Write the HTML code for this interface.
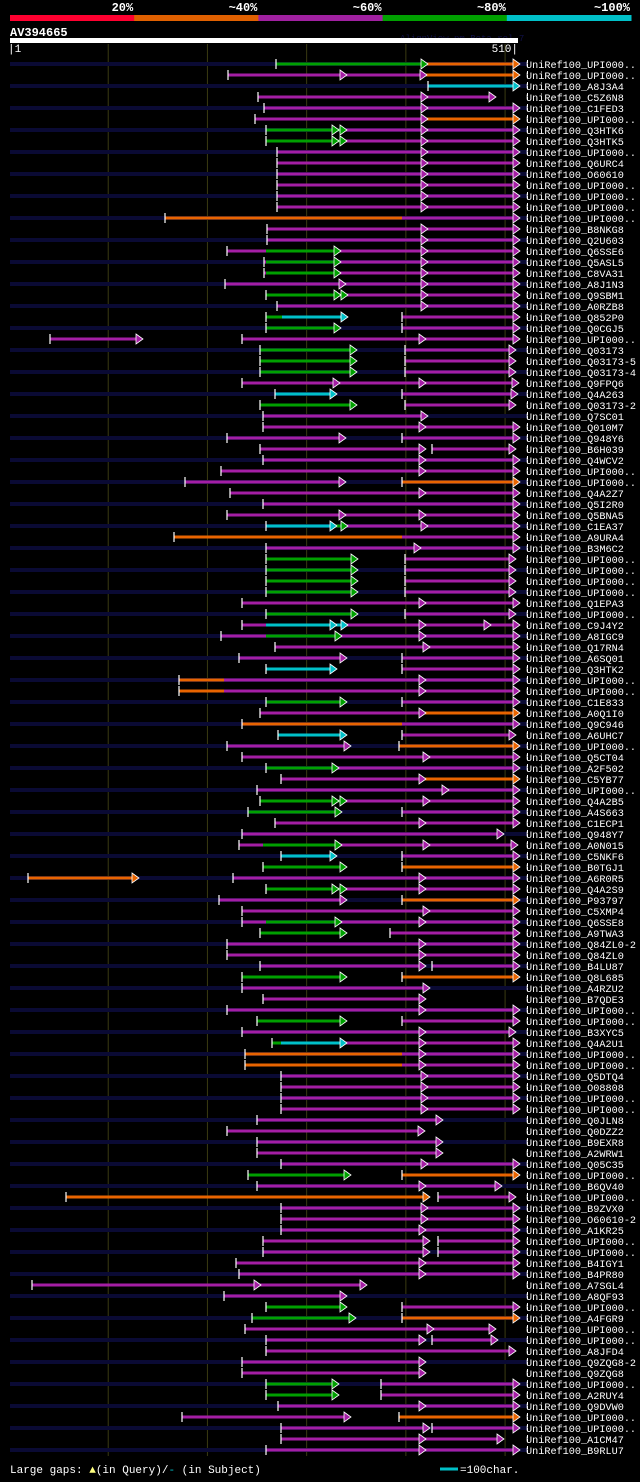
<!DOCTYPE html>
<html><head><meta charset="utf-8">
<style>
html,body{margin:0;padding:0;background:#000;}
body{width:640px;height:1477px;overflow:hidden;}
svg text{font-family:"Liberation Mono","DejaVu Sans Mono",monospace;}
</style></head>
<body>
<svg id="chart" width="640" height="1477" xmlns="http://www.w3.org/2000/svg">
  <rect x="0" y="0" width="640" height="1477" fill="#000"/>
  <g id="legend-top"></g>
  <text x="10" y="36" fill="#fff" font-size="12" font-weight="bold">AV394665</text>
  <text x="400" y="41" fill="#101048" font-size="9">AlignView.pm Beta rel.7</text>
  <rect x="10" y="38" width="508" height="5" fill="#fff"/>
  <text x="8" y="52" fill="#fff" font-size="11">|1</text>
  <text x="518" y="52" fill="#fff" font-size="11" text-anchor="end">510|</text>
  <g id="grid"></g>
  <g id="rows"></g>
  <text x="10" y="1473" fill="#fff" font-size="11">Large gaps: <tspan fill="#ffff80">▲</tspan>(in Query)/<tspan fill="#00c0c8">-</tspan> (in Subject)</text>
  <line x1="440" y1="1469" x2="458" y2="1469" stroke="#00c0c8" stroke-width="3"/>
  <text x="460" y="1473" fill="#fff" font-size="11">=100char.</text>
</svg>
<script>
const legendLabels = ["20%","~40%","~60%","~80%","~100%"];
const legendColors = ["#ff0030","#e06000","#a020a0","#00a000","#00c0c8"];
const gridTicks = [100,200,300,400,500];
const hitNames = ["UPI000..","UPI000..","A8J3A4","C5Z6N8","C1FED3","UPI000..","Q3HTK6","Q3HTK5","UPI000..","Q6URC4","O60610","UPI000..","UPI000..","UPI000..","UPI000..","B8NKG8","Q2U603","Q6SSE6","Q5ASL5","C8VA31","A8J1N3","Q9SBM1","A0RZB8","Q852P0","Q0CGJ5","UPI000..","Q03173","Q03173-5","Q03173-4","Q9FPQ6","Q4A263","Q03173-2","Q7SC01","Q010M7","Q948Y6","B6H039","Q4WCV2","UPI000..","UPI000..","Q4A2Z7","Q5I2R0","Q5BNA5","C1EA37","A9URA4","B3M6C2","UPI000..","UPI000..","UPI000..","UPI000..","Q1EPA3","UPI000..","C9J4Y2","A8IGC9","Q17RN4","A6SQ01","Q3HTK2","UPI000..","UPI000..","C1E833","A0Q1I0","Q9C946","A6UHC7","UPI000..","Q5CT04","A2F502","C5YB77","UPI000..","Q4A2B5","A4S663","C1ECP1","Q948Y7","A0N015","C5NKF6","B0TGJ1","A6R0R5","Q4A2S9","P93797","C5XMP4","Q6SSE8","A9TWA3","Q84ZL0-2","Q84ZL0","B4LU87","Q8L685","A4RZU2","B7QDE3","UPI000..","UPI000..","B3XYC5","Q4A2U1","UPI000..","UPI000..","Q5DTQ4","O08808","UPI000..","UPI000..","Q0JLN8","Q0DZZ2","B9EXR8","A2WRW1","Q05C35","UPI000..","B6QV40","UPI000..","B9ZVX0","O60610-2","A1KR25","UPI000..","UPI000..","B4IGY1","B4PR80","A7SGL4","A8QF93","UPI000..","A4FGR9","UPI000..","UPI000..","A8JFD4","Q9ZQG8-2","Q9ZQG8","UPI000..","A2RUY4","Q9DVW0","UPI000..","UPI000..","A1CM47","B9RLU7"];
const hitSegments = ["276-422G,422-514O","228-341P,341-421P,421-514O","428-514C","258-422P,422-490P","264-422P,422-514P","255-422P,422-514O","266-333G,333-341G,341-422P,422-514P","266-333G,333-341G,341-422P,422-514P","277-422P,422-514P","277-422P,422-514P","277-422P,422-514P","277-422P,422-514P","277-422P,422-514P","277-422P,422-514P","165-402o,402-514P","267-422P,422-514P","267-422P,422-514P","227-266p,266-335G,335-422P,422-514P","264-266p,266-335G,335-422P,422-514P","264-266p,266-335G,335-422P,422-514P","225-340P,340-422P,422-514P","266-335G,335-342G,342-422P,422-514P","277-422P,422-514P","266-282g,282-342C,402-514P","266-335G,402-514P","50-137P,242-420P,420-514P","260-351G,405-510P","260-351G,405-510P","260-351G,405-510P","242-334P,334-420P,420-513P","275-331C,402-512P","260-351G,405-510P","263-422P","263-420P,420-514P","227-340P,402-514P","260-420P,432-510P","263-420P,420-514P","221-420P,420-514P","185-340P,402-514O","230-420P,420-514P","263-514P","227-340P,340-420P,420-514P","266-331C,331-342G,342-422P,422-514P","174-402o,402-514P","266-415P,415-514P","266-352G,405-510P","266-352G,405-510P","266-352G,405-510P","266-352G,405-510P","242-420P,420-514P","266-352G,405-510P","242-266p,266-331C,331-342C,342-420P,420-485P,485-514P","221-266p,266-336G,336-420P,420-514P","275-424P,424-514P","239-341P,402-514P","266-331C,402-514P","179-224o,224-420P,420-514P","179-224o,224-420P,420-514P","266-341G,402-514P","260-420P,420-514O","242-402o,402-514P","278-341C,402-510P","227-345P,399-514O","242-424P,424-514P","266-333G,333-514P","281-420P,420-514O","257-443P,443-514P","260-333G,333-341G,341-424P,424-514P","248-336G,402-514P","275-420P,420-514P","242-498P","239-263p,263-336G,336-424P,424-512P","281-331C,402-514P","263-341G,402-514O","28-133O,233-420P,420-514P","266-333G,333-341G,341-420P,420-514P","219-341P,402-514O","242-424P,424-514P","242-266p,266-336G,336-420P,420-514P","260-341G,390-514P","227-420P,420-514P","227-420P,420-514P","260-420P,432-514P","242-341G,402-514O","242-424P","263-420P","227-420P,420-514P","257-341G,402-514P","242-420P,420-510P","272-281g,281-341C,341-420P,420-514P","245-402o,402-420P,420-514P","245-402o,402-420P,420-514P","281-422P,422-514P","281-422P,422-514P","281-422P,422-514P","281-422P,422-514P","257-437P","227-419P","257-437P","257-437P","281-422P,422-514P","248-345G,402-514O","257-420P,420-496P","66-424O,438-510P","281-422P,422-514P","281-422P,422-514P","281-420P,420-514P","263-424P,438-514P","263-424P,438-514P","236-420P,420-514P","239-420P,420-514P","32-255P,255-361P","224-341P","266-341G,402-514P","252-350G,402-514O","245-428P,428-490P","266-420P,432-492P","266-510P","242-420P","242-420P","266-333G,381-514P","266-333G,381-514P","278-420P,420-514P","182-345P,399-514O","281-424P,432-514P","281-420P,420-498P","266-420P,420-514P"];

const NS="http://www.w3.org/2000/svg";
const SCALE=1, OFFSET=0;
function xs(p){return OFFSET + p*SCALE;}
function gx(t){return 10 + (t-1)*505/509*SCALE;}
const ROW0=64, ROWH=11;
function ys(i){return ROW0 + i*ROWH;}
const COLORS={p:"#a41ea4",g:"#00a000",o:"#e86400",c:"#00c0c8"};
function mk(tag,attrs,parent){const e=document.createElementNS(NS,tag);for(const k in attrs)e.setAttribute(k,attrs[k]);parent.appendChild(e);return e;}

const lg=document.getElementById('legend-top');
const segW=124.2;
legendColors.forEach((c,i)=>{
  const r=mk('rect',{x:10+i*segW,y:15,width:segW+0.5,height:6,fill:c},lg);
  
  
  const t=mk('text',{x:10+(i+1)*segW-1,y:11,fill:'#fff','font-size':12,'font-weight':'bold','text-anchor':'end'},lg);
  t.textContent=legendLabels[i];
  
  
});

const gg=document.getElementById('grid');
gridTicks.forEach(t=>{
  const l=mk('line',{x1:gx(t),y1:44,x2:gx(t),y2:1456,stroke:'#3a3a12','stroke-width':1},gg);
  
  
});

const rg=document.getElementById('rows');
hitSegments.forEach((s,i)=>{
  const y=ys(i);
  const g=mk('g',{},rg);
  
  
  if(i%2===0){
    const n=mk('rect',{x:10,y:y-2,width:517,height:4,fill:'#0a0a34'},g);
    
    
  }
  const segs=s.split(',').map(t=>{const m=t.match(/(\d+)-(\d+)([a-zA-Z])/);return {a:+m[1],b:+m[2],c:m[3]};});
  let prevEnd=null;
  const arrows=[];
  segs.forEach(sg=>{
    const col=COLORS[sg.c.toLowerCase()];
    const x1=xs(sg.a), x2=xs(sg.b);
    const r=mk('rect',{x:x1,y:y-1.5,width:Math.max(1,x2-x1),height:3,fill:col},g);
    
    
    if(prevEnd===null || Math.abs(prevEnd-sg.a)>2){
      const tk=mk('line',{x1:x1,y1:y-5,x2:x1,y2:y+5,stroke:'#fff','stroke-width':1.2},g);
      
      
    }
    if(sg.c===sg.c.toUpperCase()) arrows.push({x:x2,col:col});
    prevEnd=sg.b;
  });
  arrows.forEach(a=>{
    const tri=mk('polygon',{points:`${a.x-1},${y-5} ${a.x+6},${y} ${a.x-1},${y+5}`,fill:a.col,stroke:'#fff','stroke-width':0.8},g);
    
    
  });
  const rb=mk('line',{x1:527.5,y1:y-4,x2:527.5,y2:y+3,stroke:'#fff','stroke-width':1,'stroke-dasharray':'3,1'},g);
  
  
  const t=mk('text',{x:526,y:y+4,fill:'#fff','font-size':10.2},g);
  t.textContent='UniRef100_'+hitNames[i];
  
  
});
</script>
</body></html>
